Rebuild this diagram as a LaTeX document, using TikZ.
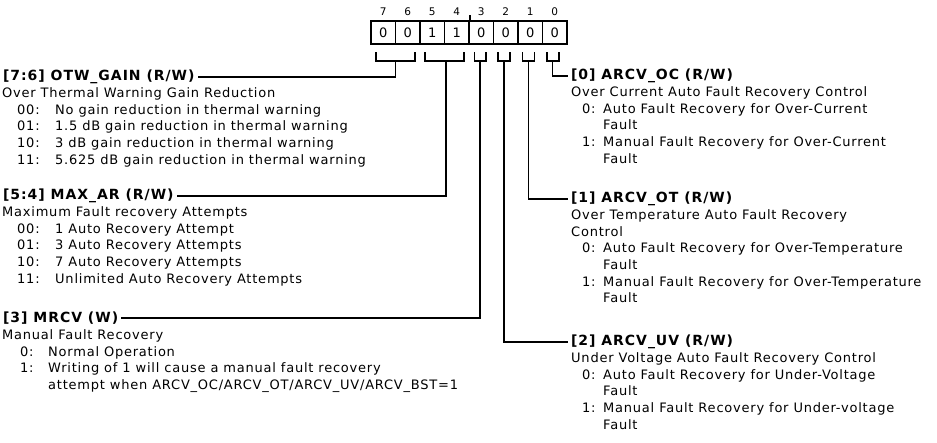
\documentclass[tikz,border=0pt]{standalone}
\usepackage{fontspec}
\setmainfont{DejaVu Sans}[LetterSpace=6]
\newfontfamily\titlefam{DejaVu Sans}[LetterSpace=7]
\newcommand\bodyfont{\fontsize{13}{15}\selectfont}
\newcommand\titlefont{\titlefam\bfseries\fontsize{14}{15}\selectfont}
\newcommand\cellfont{\fontsize{13}{15}\selectfont}
\newcommand\numfont{\fontsize{10.5}{12}\selectfont}
\tikzset{
  txt/.style={anchor=base west, inner sep=0pt},
  ttl/.style={anchor=base west, inner sep=0pt, outer sep=3pt, font=\titlefont},
  wire/.style={line width=1.8pt},
  cell/.style={draw, line width=1.8pt, minimum width=24.5pt, minimum height=23pt, inner sep=0pt, font=\cellfont},
  bitnum/.style={inner sep=0pt, font=\numfont},
}
\begin{document}
\begin{tikzpicture}[x=1pt, y=-1pt]
\useasboundingbox (0,0) rectangle (937,443);
% register cells
\foreach \i/\v [count=\k from 0] in {7/0,6/0,5/1,4/1,3/0,2/0,1/0,0/0} {
  \node[cell] (b\i) at (383.25+24.5*\k, 32.5) {\v};
  \node[bitnum] (n\i) at (383.25+24.5*\k, 12) {\i};
}
\draw[wire] (b4.north east) -- ++(0,-5);
% brackets
\draw[wire] (376,52.5) |- (415,61) -- (415,52.5);
\draw[wire] (425,52.5) |- (464,61) -- (464,52.5);
\draw[wire] (474.5,52.5) |- (486,61) -- (486,52.5);
\draw[wire] (498,52.5) |- (510,61) -- (510,52.5);
\draw[wire] (522.5,52.5) |- (534.5,61) -- (534.5,52.5);
\draw[wire] (547,52.5) |- (559,61) -- (559,52.5);
\coordinate (s76) at (395.5,61);
\coordinate (s54) at (446,61);
\coordinate (s3) at (480,61);
\coordinate (s2) at (504,61);
\coordinate (s1) at (528.5,61);
\coordinate (s0) at (552.5,61);

\begin{scope}[font=\bodyfont]
% left: OTW_GAIN
\node[ttl] (t76) at (0,80.5) {[7:6] OTW\_GAIN (R/W)};
\node[txt] (d76) at (2,97.5) {Over Thermal Warning Gain Reduction};
\node[txt] (c76a) at (17,114.2) {00:};
\node[txt] (e76a) at (55,114.2) {No gain reduction in thermal warning};
\node[txt] (c76b) at (17,130.9) {01:};
\node[txt] (e76b) at (55,130.9) {1.5 dB gain reduction in thermal warning};
\node[txt] (c76c) at (17,147.6) {10:};
\node[txt] (e76c) at (55,147.6) {3 dB gain reduction in thermal warning};
\node[txt] (c76d) at (17,164.3) {11:};
\node[txt] (e76d) at (55,164.3) {5.625 dB gain reduction in thermal warning};
% left: MAX_AR
\node[ttl] (t54) at (0,199.5) {[5:4] MAX\_AR (R/W)};
\node[txt] (d54) at (2,216.5) {Maximum Fault recovery Attempts};
\node[txt] (c54a) at (17,233.2) {00:};
\node[txt] (e54a) at (55,233.2) {1 Auto Recovery Attempt};
\node[txt] (c54b) at (17,249.9) {01:};
\node[txt] (e54b) at (55,249.9) {3 Auto Recovery Attempts};
\node[txt] (c54c) at (17,266.6) {10:};
\node[txt] (e54c) at (55,266.6) {7 Auto Recovery Attempts};
\node[txt] (c54d) at (17,283.3) {11:};
\node[txt] (e54d) at (55,283.3) {Unlimited Auto Recovery Attempts};
% left: MRCV
\node[ttl] (t3) at (0,322.5) {[3] MRCV (W)};
\node[txt] (d3) at (2,339.5) {Manual Fault Recovery};
\node[txt] (c3a) at (20,356.2) {0:};
\node[txt] (e3a) at (48,356.2) {Normal Operation};
\node[txt] (c3b) at (20,372.9) {1:};
\node[txt] (e3b) at (48,372.9) {Writing of 1 will cause a manual fault recovery};
\node[txt] (e3c) at (48,389.6) {attempt when ARCV\_OC/ARCV\_OT/ARCV\_UV/ARCV\_BST=1};
% right: ARCV_OC
\node[ttl] (t0) at (568,79.5) {[0] ARCV\_OC (R/W)};
\node[txt] (d0) at (571,96.5) {Over Current Auto Fault Recovery Control};
\node[txt] (c0a) at (582,113.2) {0:};
\node[txt] (e0a) at (603,113.2) {Auto Fault Recovery for Over-Current};
\node[txt] (f0a) at (603,129.9) {Fault};
\node[txt] (c0b) at (582,146.6) {1:};
\node[txt] (e0b) at (603,146.6) {Manual Fault Recovery for Over-Current};
\node[txt] (f0b) at (603,163.3) {Fault};
% right: ARCV_OT
\node[ttl] (t1) at (568,202.5) {[1] ARCV\_OT (R/W)};
\node[txt] (d1) at (571,219.5) {Over Temperature Auto Fault Recovery};
\node[txt] (d1b) at (571,236.2) {Control};
\node[txt] (c1a) at (582,252.9) {0:};
\node[txt] (e1a) at (603,252.9) {Auto Fault Recovery for Over-Temperature};
\node[txt] (f1a) at (603,269.6) {Fault};
\node[txt] (c1b) at (582,286.3) {1:};
\node[txt] (e1b) at (603,286.3) {Manual Fault Recovery for Over-Temperature};
\node[txt] (f1b) at (603,303) {Fault};
% right: ARCV_UV
\node[ttl] (t2) at (568,345.5) {[2] ARCV\_UV (R/W)};
\node[txt] (d2) at (571,362.5) {Under Voltage Auto Fault Recovery Control};
\node[txt] (c2a) at (582,379.2) {0:};
\node[txt] (e2a) at (603,379.2) {Auto Fault Recovery for Under-Voltage};
\node[txt] (f2a) at (603,395.9) {Fault};
\node[txt] (c2b) at (582,412.6) {1:};
\node[txt] (e2b) at (603,412.6) {Manual Fault Recovery for Under-voltage};
\node[txt] (f2b) at (603,429.3) {Fault};
\end{scope}
% connectors
\draw[wire] (s76) |- (t76.east);
\draw[wire] (s54) |- (t54.east);
\draw[wire] (s3) |- (t3.east);
\draw[wire] (s0) |- (t0.west);
\draw[wire] (s1) |- (t1.west);
\draw[wire] (s2) |- (t2.west);
\end{tikzpicture}
\end{document}
